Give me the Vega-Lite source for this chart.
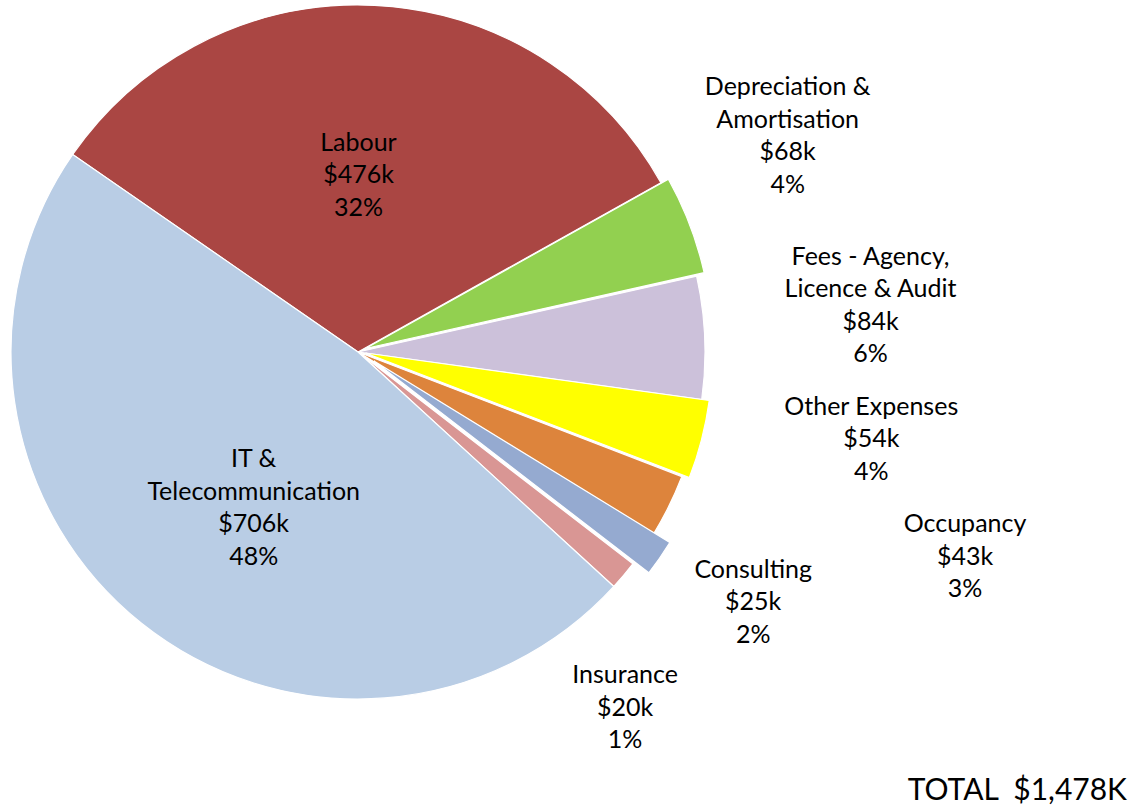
{
  "$schema": "https://vega.github.io/schema/vega-lite/v6.json",
  "width": 716,
  "height": 704,
  "autosize": {"type": "none"},
  "padding": {"left": 0, "top": 0, "right": 421, "bottom": 107},
  "background": "white",
  "config": {"view": {"stroke": null}},
  "title": {
    "text": "TOTAL\u00a0 $1,478K",
    "orient": "bottom",
    "anchor": "end",
    "frame": "group",
    "dx": 411,
    "offset": 9,
    "font": "Lato",
    "fontSize": 30,
    "fontWeight": "normal",
    "color": "black"
  },
  "data": {
    "values": [
      {"order": 1, "category": "Labour", "value": 476, "label": "Labour\n$476k\n32%"},
      {"order": 2, "category": "Depreciation & Amortisation", "value": 68, "label": "Depreciation &\nAmortisation\n$68k\n4%"},
      {"order": 3, "category": "Fees - Agency, Licence & Audit", "value": 84, "label": "Fees - Agency,\nLicence & Audit\n$84k\n6%"},
      {"order": 4, "category": "Other Expenses", "value": 54, "label": "Other Expenses\n$54k\n4%"},
      {"order": 5, "category": "Occupancy", "value": 43, "label": "Occupancy\n$43k\n3%"},
      {"order": 6, "category": "Consulting", "value": 25, "label": "Consulting\n$25k\n2%"},
      {"order": 7, "category": "Insurance", "value": 20, "label": "Insurance\n$20k\n1%"},
      {"order": 8, "category": "IT & Telecommunication", "value": 706, "label": "IT &\nTelecommunication\n$706k\n48%"}
    ]
  },
  "encoding": {
    "theta": {"field": "value", "type": "quantitative", "stack": true, "scale": {"range": [-0.9652, 5.318]}},
    "order": {"field": "order", "type": "quantitative"}
  },
  "layer": [
    {
      "mark": {"type": "arc", "outerRadius": 347, "stroke": "white", "strokeWidth": 1.2},
      "encoding": {
        "color": {"field": "category", "type": "nominal", "legend": null,
          "scale": {"domain": ["Labour", "Depreciation & Amortisation", "Fees - Agency, Licence & Audit", "Other Expenses", "Occupancy", "Consulting", "Insurance", "IT & Telecommunication"],
                    "range": ["#AA4643", "#92D050", "#CCC1DA", "#FFFF00", "#DD843C", "#95AAD0", "#D99694", "#B9CDE5"]}},
        "opacity": {"condition": {"test": "datum.category === 'Depreciation & Amortisation' || datum.category === 'Other Expenses' || datum.category === 'Consulting'", "value": 0}, "value": 1}
      }
    },
    {
      "mark": {"type": "arc", "outerRadius": 347, "stroke": "white", "strokeWidth": 1.2, "xOffset": 7.5, "yOffset": -3.5},
      "encoding": {
        "color": {"field": "category", "type": "nominal", "legend": null},
        "opacity": {"condition": {"test": "datum.category === 'Depreciation & Amortisation'", "value": 1}, "value": 0}
      }
    },
    {
      "mark": {"type": "arc", "outerRadius": 347, "stroke": "white", "strokeWidth": 1.2, "xOffset": 7.5, "yOffset": 1},
      "encoding": {
        "color": {"field": "category", "type": "nominal", "legend": null},
        "opacity": {"condition": {"test": "datum.category === 'Other Expenses'", "value": 1}, "value": 0}
      }
    },
    {
      "mark": {"type": "arc", "outerRadius": 347, "stroke": "white", "strokeWidth": 1.2, "xOffset": 16, "yOffset": 9},
      "encoding": {
        "color": {"field": "category", "type": "nominal", "legend": null},
        "opacity": {"condition": {"test": "datum.category === 'Consulting'", "value": 1}, "value": 0}
      }
    },
    {
      "mark": {"type": "text", "radius": 177, "dx": -8, "dy": -32.5, "font": "Lato", "fontSize": 25, "lineHeight": 32.5, "align": "center", "baseline": "middle", "lineBreak": "\n", "color": "black"},
      "encoding": {"text": {"condition": {"test": "datum.category === 'Labour'", "field": "label"}, "value": ""}}
    },
    {
      "mark": {"type": "text", "radius": 460, "dx": 0, "dy": -100.75, "font": "Lato", "fontSize": 25, "lineHeight": 32.5, "align": "center", "baseline": "middle", "lineBreak": "\n", "color": "black"},
      "encoding": {"text": {"condition": {"test": "datum.category === 'Depreciation & Amortisation'", "field": "label"}, "value": ""}}
    },
    {
      "mark": {"type": "text", "radius": 513, "dx": 0, "dy": -73.75, "font": "Lato", "fontSize": 25, "lineHeight": 32.5, "align": "center", "baseline": "middle", "lineBreak": "\n", "color": "black"},
      "encoding": {"text": {"condition": {"test": "datum.category === 'Fees - Agency, Licence & Audit'", "field": "label"}, "value": ""}}
    },
    {
      "mark": {"type": "text", "radius": 530, "dx": 0, "dy": -77.5, "font": "Lato", "fontSize": 25, "lineHeight": 32.5, "align": "center", "baseline": "middle", "lineBreak": "\n", "color": "black"},
      "encoding": {"text": {"condition": {"test": "datum.category === 'Other Expenses'", "field": "label"}, "value": ""}}
    },
    {
      "mark": {"type": "text", "radius": 677, "dx": 0, "dy": -127.5, "font": "Lato", "fontSize": 25, "lineHeight": 32.5, "align": "center", "baseline": "middle", "lineBreak": "\n", "color": "black"},
      "encoding": {"text": {"condition": {"test": "datum.category === 'Occupancy'", "field": "label"}, "value": ""}}
    },
    {
      "mark": {"type": "text", "radius": 480, "dx": 0, "dy": -54.5, "font": "Lato", "fontSize": 25, "lineHeight": 32.5, "align": "center", "baseline": "middle", "lineBreak": "\n", "color": "black"},
      "encoding": {"text": {"condition": {"test": "datum.category === 'Consulting'", "field": "label"}, "value": ""}}
    },
    {
      "mark": {"type": "text", "radius": 349, "dx": 0, "dy": 98.5, "font": "Lato", "fontSize": 25, "lineHeight": 32.5, "align": "center", "baseline": "middle", "lineBreak": "\n", "color": "black"},
      "encoding": {"text": {"condition": {"test": "datum.category === 'Insurance'", "field": "label"}, "value": ""}}
    },
    {
      "mark": {"type": "text", "radius": 188, "dx": 13, "dy": -39.75, "font": "Lato", "fontSize": 25, "lineHeight": 32.5, "align": "center", "baseline": "middle", "lineBreak": "\n", "color": "black"},
      "encoding": {"text": {"condition": {"test": "datum.category === 'IT & Telecommunication'", "field": "label"}, "value": ""}}
    }
  ]
}
